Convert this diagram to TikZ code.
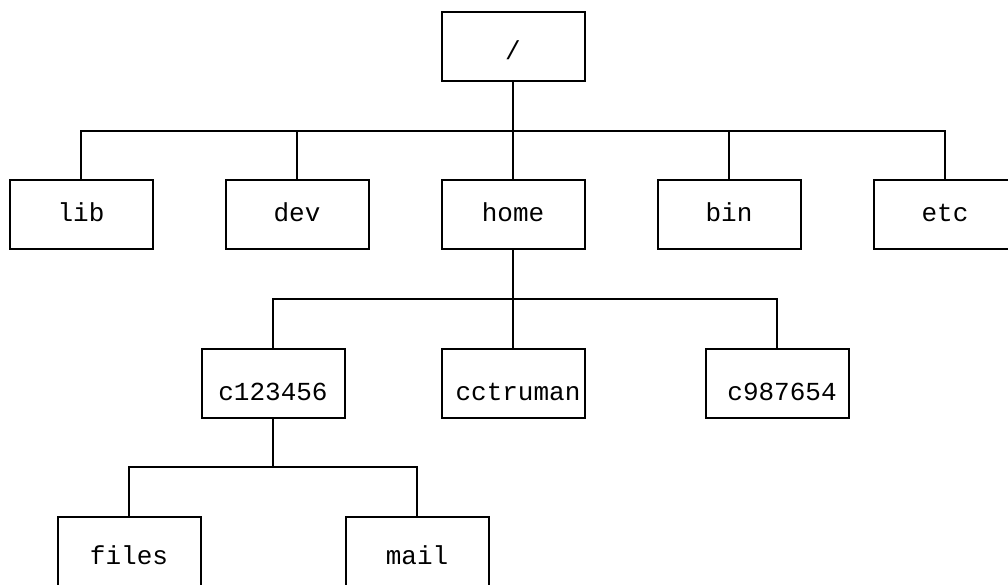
\documentclass[tikz,border=0pt]{standalone}
\usepackage{fontspec}
\setmonofont{Liberation Mono}
\begin{document}
\begin{tikzpicture}[x=1pt,y=-1pt,
  dirbox/.style={draw,line width=2pt,minimum width=143pt,minimum height=69pt,inner sep=0pt,
    font=\fontsize{26}{26}\selectfont\ttfamily,text depth=0pt,text height=15pt},
  rowtwo/.style={text height=34pt},
  rowthree/.style={text height=26pt},
  link/.style={line width=2pt}]
\clip (0,0) rectangle (1008,585);
\node[dirbox,text height=26pt] (root) at (513,46.5) {/};
\node[dirbox] (lib)  at (81,214.5) {lib};
\node[dirbox] (dev)  at (297,214.5) {dev};
\node[dirbox] (home) at (513,214.5) {home};
\node[dirbox] (bin)  at (729,214.5) {bin};
\node[dirbox] (etc)  at (945,214.5) {etc};
\node[dirbox,rowtwo] (c1) at (273,383) {c123456};
\node[dirbox,rowtwo] (cc) at (513,383) {\hspace*{10pt}cctruman};
\node[dirbox,rowtwo] (c9) at (777,383) {\hspace*{10pt}c987654};
\node[dirbox,rowthree] (files) at (129,551) {files};
\node[dirbox,rowthree] (mail) at (417,551) {mail};
\coordinate (j1) at (513,131);
\coordinate (j2) at (513,299);
\coordinate (j3) at (273,467);
\draw[link] (root.south) -- (j1);
\draw[link] (lib.north) |- (j1) -| (etc.north);
\draw[link] (dev.north) -- (dev.north |- j1);
\draw[link] (home.north) -- (j1);
\draw[link] (bin.north) -- (bin.north |- j1);
\draw[link] (home.south) -- (j2);
\draw[link] (c1.north) |- (j2) -| (c9.north);
\draw[link] (cc.north) -- (j2);
\draw[link] (c1.south) -- (j3);
\draw[link] (files.north) |- (j3) -| (mail.north);
\end{tikzpicture}
\end{document}
